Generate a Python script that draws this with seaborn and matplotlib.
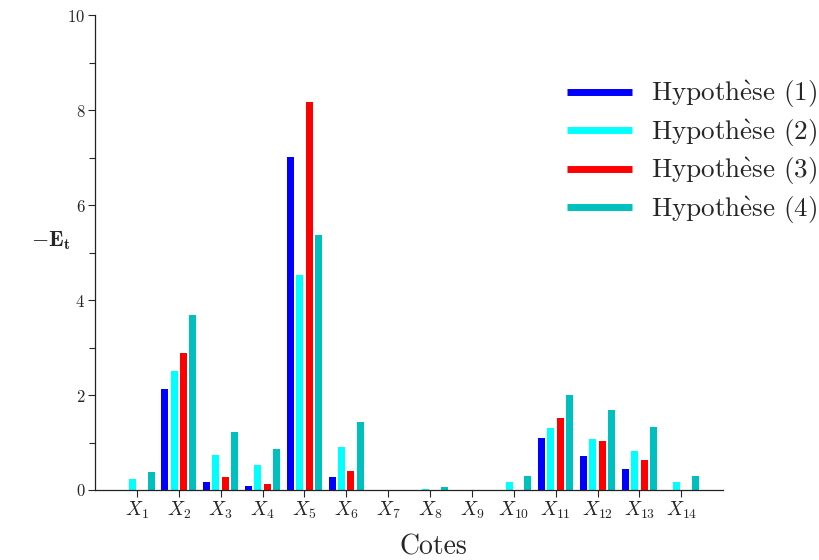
import matplotlib
matplotlib.use("Agg")
import matplotlib.pyplot as plt
import seaborn as sns
import pandas as pd
from matplotlib.lines import Line2D
from matplotlib.ticker import MultipleLocator

categories = [r"$X_{%d}$" % i for i in range(1, 15)]
hyp1 = [0.0, 2.12, 0.17, 0.08, 7.02, 0.27, 0.0, 0.0, 0.0, 0.0, 1.09, 0.72, 0.44, 0.0]
hyp2 = [0.23, 2.50, 0.74, 0.53, 4.52, 0.91, 0.0, 0.03, 0.0, 0.17, 1.30, 1.07, 0.82, 0.17]
hyp3 = [0.01, 2.88, 0.27, 0.13, 8.16, 0.40, 0.0, 0.0, 0.0, 0.01, 1.52, 1.03, 0.63, 0.01]
hyp4 = [0.38, 3.68, 1.22, 0.86, 5.37, 1.43, 0.0, 0.07, 0.0, 0.29, 2.01, 1.68, 1.32, 0.29]
series_names = ["Hypothèse (1)", "Hypothèse (2)", "Hypothèse (3)", "Hypothèse (4)"]
legend_labels = [r"Hypoth$\mathrm{\grave{e}}$se (%d)" % i for i in range(1, 5)]
colors = ["#0000ff", "#00ffff", "#ff0000", "#00bfbf"]

rows = []
for name, vals in zip(series_names, [hyp1, hyp2, hyp3, hyp4]):
    for c, v in zip(categories, vals):
        rows.append({"cat": c, "val": v, "hyp": name})
df = pd.DataFrame(rows)

sns.set_style("ticks")
plt.rcParams["font.family"] = ["cmr10", "DejaVu Serif"]
plt.rcParams["mathtext.fontset"] = "cm"
plt.rcParams["axes.formatter.use_mathtext"] = True
plt.rcParams["axes.unicode_minus"] = False

fig = plt.figure(figsize=(8.19, 5.6), dpi=100)
ax = fig.add_axes([0.116, 0.125, 0.767, 0.848])

sns.barplot(data=df, x="cat", y="val", hue="hyp", order=categories,
            hue_order=series_names, palette=colors, saturation=1, width=0.9, gap=0.26,
            linewidth=0, ax=ax, legend=False)

ax.set_xlim(-1, 14)
ax.set_ylim(0, 10)
ax.yaxis.set_major_locator(MultipleLocator(2))
ax.yaxis.set_minor_locator(MultipleLocator(1))
sns.despine(ax=ax)
ax.tick_params(axis="y", which="major", direction="out", length=5, width=0.8, labelsize=12, pad=2)
ax.tick_params(axis="y", which="minor", direction="out", length=4, width=0.8)
ax.tick_params(axis="x", which="major", direction="out", length=5, width=0.8, labelsize=14, pad=2)
for s in ["left", "bottom"]:
    ax.spines[s].set_linewidth(0.9)
    ax.spines[s].set_color("#222222")

ax.set_xlabel("Cotes", fontsize=20, labelpad=8)
ax.xaxis.set_label_coords(0.538, -0.093)
ax.set_ylabel(r"$-\mathbf{E}_\mathbf{t}$", fontsize=16, rotation=0, va="center", ha="center")
ax.yaxis.set_label_coords(-0.07, 0.526)

handles = [Line2D([0], [0], color=c, lw=5, solid_capstyle="butt") for c in colors]
fig.legend(handles, legend_labels, loc="upper left", bbox_to_anchor=(0.663, 0.903),
           bbox_transform=fig.transFigure,
           frameon=False, fontsize=19.5, handlelength=2.37, labelspacing=0.26,
           handletextpad=0.7, borderaxespad=0.5)

fig.savefig("out.png", dpi=100)
